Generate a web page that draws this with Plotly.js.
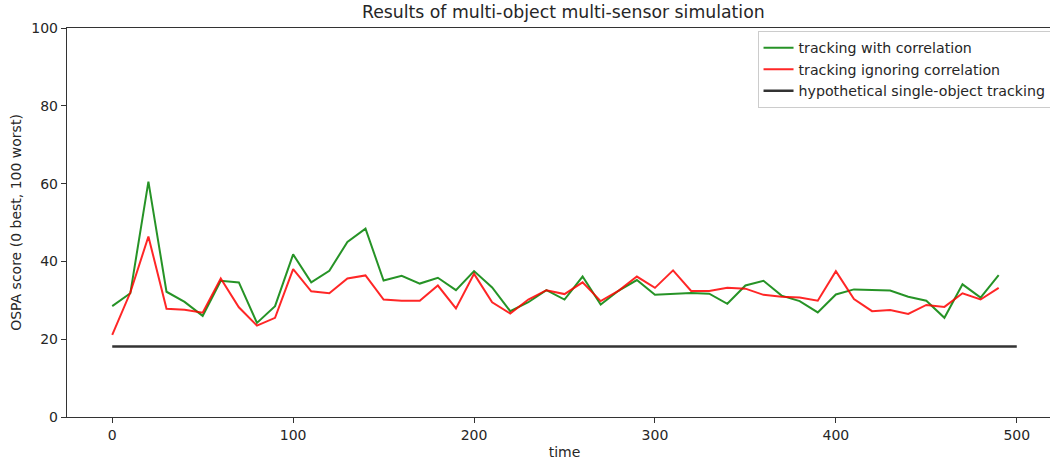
<!DOCTYPE html>
<html>
<head>
<meta charset="utf-8">
<script src="https://cdn.plot.ly/plotly-3.0.1.min.js"></script>
<style>
  html, body { margin: 0; padding: 0; background: #fff; overflow: hidden; width: 1050px; height: 461px; }
  #chart { width: 1075px; height: 461px; }
</style>
</head>
<body>
<div id="chart"></div>
<script>
// Simulation time steps (every 10 units)
const timeSteps = [0,10,20,30,40,50,60,70,80,90,100,110,120,130,140,150,160,170,180,190,
                   200,210,220,230,240,250,260,270,280,290,300,310,320,330,340,350,360,370,380,390,
                   400,410,420,430,440,450,460,470,480,490];

// OSPA score, tracking with correlation
const withCorrelation = [28.5,31.8,60.5,32.2,29.6,26.0,35.0,34.6,24.2,28.5,
                         41.8,34.6,37.6,45.0,48.4,35.1,36.3,34.3,35.8,32.6,
                         37.5,33.3,27.2,29.5,32.6,30.2,36.1,28.9,32.5,35.2,
                         31.4,31.7,31.9,31.7,29.1,33.8,35.0,31.2,29.8,26.9,
                         31.5,32.8,32.7,32.5,30.9,29.9,25.5,34.1,30.7,36.5];

// OSPA score, tracking ignoring correlation
const ignoringCorrelation = [21.1,32.0,46.4,27.8,27.6,26.8,35.6,28.2,23.5,25.5,
                             38.0,32.3,31.8,35.6,36.4,30.2,29.9,29.9,33.8,27.9,
                             36.8,29.5,26.6,30.2,32.6,31.6,34.6,29.8,32.5,36.1,
                             33.2,37.7,32.4,32.4,33.2,33.0,31.4,30.9,30.7,29.9,
                             37.5,30.3,27.2,27.5,26.5,28.8,28.3,31.8,30.2,33.2];

// Hypothetical single-object baseline
const baselineTime = [0, 500];
const baselineScore = [18.1, 18.1];

const yTicks = [0, 20, 40, 60, 80, 100];
const xTicks = [0, 100, 200, 300, 400, 500];

const traces = [
  {
    x: timeSteps, y: withCorrelation, type: 'scatter', mode: 'lines',
    name: 'tracking with correlation',
    line: { color: 'rgba(0,128,0,0.85)', width: 2 }
  },
  {
    x: timeSteps, y: ignoringCorrelation, type: 'scatter', mode: 'lines',
    name: 'tracking ignoring correlation',
    line: { color: 'rgba(255,0,0,0.85)', width: 2 }
  },
  {
    x: baselineTime, y: baselineScore, type: 'scatter', mode: 'lines',
    name: 'hypothetical single-object tracking',
    line: { color: 'rgba(0,0,0,0.8)', width: 2.5 }
  }
];

const tickFont = { family: 'DejaVu Sans', size: 14, color: '#262626' };

const layout = {
  width: 1075, height: 461,
  margin: { l: 67, r: 13, t: 28, b: 44 },
  paper_bgcolor: '#fff', plot_bgcolor: '#fff',
  font: { family: 'DejaVu Sans', color: '#262626' },
  title: {
    text: 'Results of multi-object multi-sensor simulation',
    font: { family: 'DejaVu Sans', size: 17.3, color: '#262626' },
    x: 0.524, xanchor: 'center', y: 0.988, yanchor: 'top'
  },
  xaxis: {
    range: [-25, 525], tickvals: xTicks, ticktext: xTicks.map(String),
    showgrid: false, zeroline: false, showline: true, mirror: true,
    linecolor: '#333', linewidth: 1.2,
    ticks: 'outside', ticklen: 5, tickcolor: '#333', tickfont: tickFont,
    title: { text: 'time', font: { family: 'DejaVu Sans', size: 14, color: '#262626' }, standoff: 5 }
  },
  yaxis: {
    range: [0, 100], tickvals: yTicks, ticktext: yTicks.map(String),
    showgrid: false, zeroline: false, showline: true, mirror: true,
    linecolor: '#333', linewidth: 1.2,
    ticks: 'outside', ticklen: 5, tickcolor: '#333', tickfont: tickFont,
    title: { text: 'OSPA score (0 best, 100 worst)', font: { family: 'DejaVu Sans', size: 14, color: '#262626' }, standoff: 6 }
  },
  showlegend: true,
  legend: {
    x: 0.694, xanchor: 'left', y: 0.992, yanchor: 'top',
    bgcolor: 'rgba(255,255,255,0.8)', bordercolor: '#cccccc', borderwidth: 1,
    font: { family: 'DejaVu Sans', size: 14.2, color: '#262626' },
    tracegroupgap: 0, itemwidth: 30
  }
};

Plotly.newPlot('chart', traces, layout, { displayModeBar: false, staticPlot: true });
</script>
</body>
</html>
